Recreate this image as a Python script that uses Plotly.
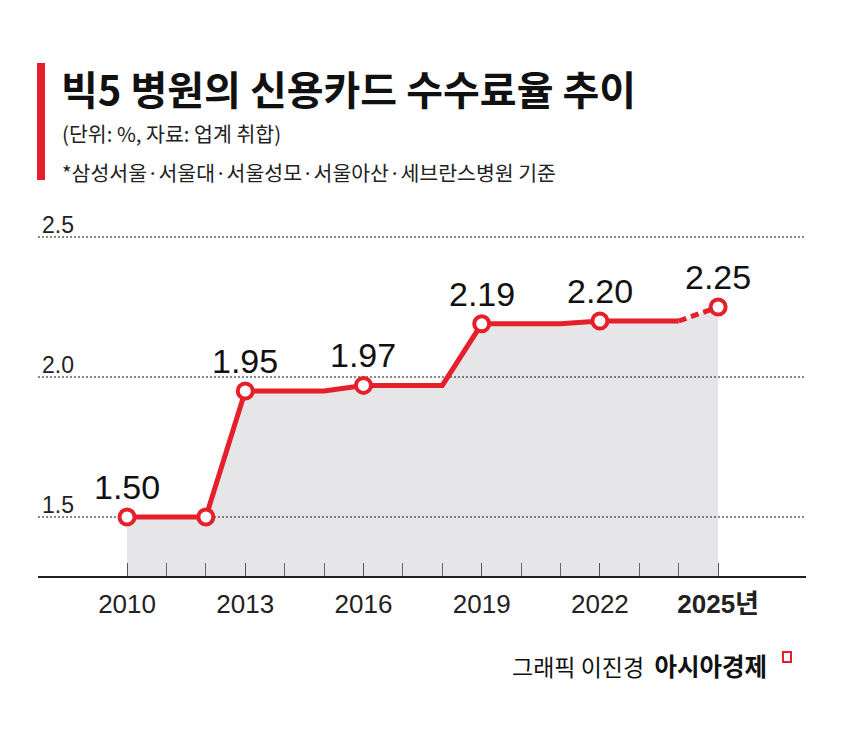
import plotly.graph_objects as go

# ---- data ----
years = list(range(2010, 2026))
rates = [1.50, 1.50, 1.50, 1.95, 1.95, 1.95, 1.97, 1.97, 1.97,
         2.19, 2.19, 2.19, 2.20, 2.20, 2.20, 2.25]
marker_years = [2010, 2012, 2013, 2016, 2019, 2022, 2025]
label_years = [2010, 2013, 2016, 2019, 2022, 2025]
tick_years = [2010, 2013, 2016, 2019, 2022, 2025]
tick_text = ["2010", "2013", "2016", "2019", "2022", "<b>2025년</b>"]
grid_values = [1.5, 2.0, 2.5]
grid_labels = ["1.5", "2.0", "2.5"]

title = "빅5 병원의 신용카드 수수료율 추이"
subtitle = "(단위: %, 자료: 업계 취합)"
note = "*삼성서울·서울대·서울성모·서울아산·세브란스병원 기준"
credit_a = "그래픽 이진경"
credit_b = "아시아경제"

RED = "#e5202a"
FILL = "#e6e6e8"
KR = "Noto Sans CJK KR"
NUM = "Liberation Sans, Arial, Noto Sans CJK KR, sans-serif"

X_RANGE = [2007.74, 2027.23]
Y_RANGE = [1.2893, 2.6]

val = dict(zip(years, rates))
solid_x = [y for y in years if y <= 2024]
solid_y = [val[y] for y in solid_x]
dash_x = [2024, 2025]
dash_y = [val[y] for y in dash_x]

fig = go.Figure()

# area fill
fig.add_trace(go.Scatter(x=years, y=rates, mode="lines", line=dict(width=0),
                         fill="tozeroy", fillcolor=FILL, hoverinfo="skip"))

# dotted gridlines (drawn above the fill)
gx, gy = [], []
for v in grid_values:
    gx += [X_RANGE[0], X_RANGE[1], None]
    gy += [v, v, None]
fig.add_trace(go.Scatter(x=gx, y=gy, mode="lines",
                         line=dict(color="#111", width=1, dash="2px,2px"),
                         hoverinfo="skip"))

# solid line
fig.add_trace(go.Scatter(x=solid_x, y=solid_y, mode="lines",
                         line=dict(color=RED, width=5)))
# dashed last segment
fig.add_trace(go.Scatter(x=dash_x, y=dash_y, mode="lines",
                         line=dict(color=RED, width=5, dash="8px,5px")))

# markers
fig.add_trace(go.Scatter(x=marker_years, y=[val[y] for y in marker_years],
                         mode="markers",
                         marker=dict(size=15, color="white",
                                     line=dict(color=RED, width=4))))

annotations = []
# value labels
for y in label_years:
    annotations.append(dict(x=y, y=val[y], xref="x", yref="y", text=f"{val[y]:.2f}",
                            xanchor="center", yanchor="bottom", yshift=9,
                            showarrow=False,
                            font=dict(family=NUM, size=34, color="#111")))
# grid value labels
for v, t in zip(grid_values, grid_labels):
    annotations.append(dict(x=0, xref="paper", y=v, yref="y", text=t,
                            xanchor="left", yanchor="bottom", xshift=2, yshift=-3,
                            showarrow=False,
                            font=dict(family=NUM, size=23, color="#222")))

OFF = 8  # page body margin
W, H = 853 - OFF, 742 - OFF
PL, PR, PT, PB = 38, 806, 209, 576  # plot box in window pixels
L, R, T, B = PL - OFF, W - (PR - OFF), PT - OFF, H - (PB - OFF)


def px(xp):
    return (xp - PL) / (PR - PL)


def py(yp):
    return (PB - yp) / (PB - PT)


annotations += [
    dict(x=px(59), y=py(88), xref="paper", yref="paper", text=f"<b>{title}</b>",
         xanchor="left", yanchor="middle", showarrow=False,
         font=dict(family=KR, size=40, color="#111")),
    dict(x=px(60), y=py(133), xref="paper", yref="paper", text=subtitle,
         xanchor="left", yanchor="middle", showarrow=False,
         font=dict(family=KR, size=20.5, color="#222")),
    dict(x=px(60), y=py(172), xref="paper", yref="paper", text=note,
         xanchor="left", yanchor="middle", showarrow=False,
         font=dict(family=KR, size=20.5, color="#222")),
    dict(x=px(769), y=py(665), xref="paper", yref="paper",
         text=f"{credit_a}  <span style='font-size:24.5px'><b>{credit_b}</b></span>",
         xanchor="right", yanchor="middle", showarrow=False,
         font=dict(family=KR, size=23, color="#111")),
]

shapes = [
    dict(type="rect", xref="paper", yref="paper", x0=px(37), x1=px(45),
         y0=py(180), y1=py(63), fillcolor=RED, line=dict(width=0)),
    dict(type="rect", xref="paper", yref="paper", x0=px(783), x1=px(791),
         y0=py(662), y1=py(652), fillcolor="white", line=dict(color=RED, width=2)),
]

fig.update_layout(
    width=W, height=H, margin=dict(l=L, r=R, t=T, b=B),
    paper_bgcolor="white", plot_bgcolor="white", showlegend=False,
    annotations=annotations, shapes=shapes,
    xaxis=dict(range=X_RANGE, tickvals=tick_years, ticktext=tick_text,
               ticks="inside", ticklen=13, tickcolor="#555", tickwidth=1,
               minor=dict(tickvals=years, ticks="inside", ticklen=13,
                          tickcolor="#666", tickwidth=1, showgrid=False),
               showgrid=False, zeroline=False, showline=True, linecolor="#222",
               linewidth=2, ticklabelstandoff=4,
               tickfont=dict(family=NUM, size=26, color="#222")),
    yaxis=dict(range=Y_RANGE, showgrid=False, zeroline=False,
               showticklabels=False, showline=False),
)

fig.write_html("out.html")
